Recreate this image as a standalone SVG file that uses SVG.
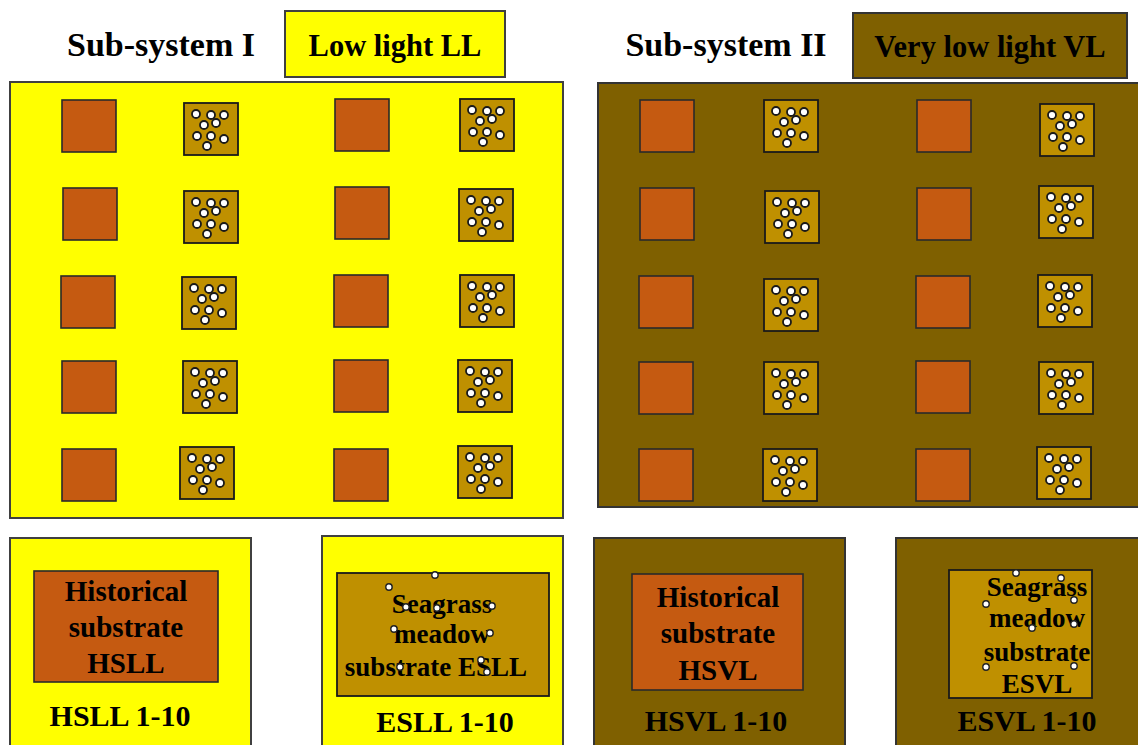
<svg xmlns="http://www.w3.org/2000/svg" xmlns:xlink="http://www.w3.org/1999/xlink" width="1138" height="745" viewBox="0 0 1138 745">
<style>
.t{font-family:"Liberation Serif","Times New Roman",serif;font-weight:bold;fill:#000;text-anchor:middle}
.yl{fill:#FFFF00;stroke:#404040;stroke-width:2}
.ol{fill:#7F6000;stroke:#333;stroke-width:2}
.hs{fill:#C55A11;stroke:#2a2a2a;stroke-width:1.6}
.es{fill:#BF9000;stroke:#1a1a1a;stroke-width:1.8}
.d{fill:#fff;stroke:#222;stroke-width:1.4}
.dd{fill:#fff;stroke:#1a1a1a;stroke-width:1.8}
</style>
<defs>
<g id="dots">
<circle class="dd" cx="12" cy="11" r="4"/>
<circle class="dd" cx="27" cy="12" r="4"/>
<circle class="dd" cx="40" cy="12" r="4"/>
<circle class="dd" cx="20" cy="22" r="4"/>
<circle class="dd" cx="32" cy="20" r="4"/>
<circle class="dd" cx="13" cy="33" r="4"/>
<circle class="dd" cx="27" cy="33" r="4"/>
<circle class="dd" cx="40" cy="36" r="4"/>
<circle class="dd" cx="23" cy="43" r="4"/>
</g>
<g id="es-sq"><rect class="es" x="0" y="0" width="54" height="52"/><use xlink:href="#dots" href="#dots"/></g>
<g id="hs-sq"><rect class="hs" x="0" y="0" width="54" height="52"/></g>
</defs>

<g id="title-1"><text class="t" x="161" y="56" font-size="34">Sub-system I</text></g>
<g id="label-LL"><rect class="yl" x="285" y="11" width="220" height="66" stroke-width="1.6"/><text class="t" x="395" y="56" font-size="30.5">Low light LL</text></g>
<g id="title-2"><text class="t" x="726" y="56" font-size="34">Sub-system II</text></g>
<g id="label-VL"><rect class="ol" x="853" y="13" width="274" height="65" stroke-width="1.6"/><text class="t" x="990" y="57" font-size="30.5">Very low light VL</text></g>

<g id="subsystem-LL">
<rect class="yl" x="10" y="82" width="553" height="436"/>
<use href="#hs-sq" xlink:href="#hs-sq" x="62" y="100"/>
<use href="#es-sq" xlink:href="#es-sq" x="184" y="103"/>
<use href="#hs-sq" xlink:href="#hs-sq" x="335" y="99"/>
<use href="#es-sq" xlink:href="#es-sq" x="460" y="99"/>
<use href="#hs-sq" xlink:href="#hs-sq" x="63" y="188"/>
<use href="#es-sq" xlink:href="#es-sq" x="184" y="191"/>
<use href="#hs-sq" xlink:href="#hs-sq" x="335" y="187"/>
<use href="#es-sq" xlink:href="#es-sq" x="459" y="189"/>
<use href="#hs-sq" xlink:href="#hs-sq" x="61" y="276"/>
<use href="#es-sq" xlink:href="#es-sq" x="182" y="277"/>
<use href="#hs-sq" xlink:href="#hs-sq" x="334" y="275"/>
<use href="#es-sq" xlink:href="#es-sq" x="460" y="275"/>
<use href="#hs-sq" xlink:href="#hs-sq" x="62" y="361"/>
<use href="#es-sq" xlink:href="#es-sq" x="183" y="361"/>
<use href="#hs-sq" xlink:href="#hs-sq" x="334" y="360"/>
<use href="#es-sq" xlink:href="#es-sq" x="458" y="360"/>
<use href="#hs-sq" xlink:href="#hs-sq" x="62" y="449"/>
<use href="#es-sq" xlink:href="#es-sq" x="180" y="447"/>
<use href="#hs-sq" xlink:href="#hs-sq" x="334" y="449"/>
<use href="#es-sq" xlink:href="#es-sq" x="458" y="446"/>
</g>

<g id="subsystem-VL">
<rect class="ol" x="598" y="83" width="542" height="424"/>
<use href="#hs-sq" xlink:href="#hs-sq" x="640" y="100"/>
<use href="#es-sq" xlink:href="#es-sq" x="764" y="100"/>
<use href="#hs-sq" xlink:href="#hs-sq" x="917" y="100"/>
<use href="#es-sq" xlink:href="#es-sq" x="1040" y="104"/>
<use href="#hs-sq" xlink:href="#hs-sq" x="640" y="188"/>
<use href="#es-sq" xlink:href="#es-sq" x="765" y="191"/>
<use href="#hs-sq" xlink:href="#hs-sq" x="917" y="188"/>
<use href="#es-sq" xlink:href="#es-sq" x="1039" y="186"/>
<use href="#hs-sq" xlink:href="#hs-sq" x="639" y="276"/>
<use href="#es-sq" xlink:href="#es-sq" x="764" y="279"/>
<use href="#hs-sq" xlink:href="#hs-sq" x="916" y="276"/>
<use href="#es-sq" xlink:href="#es-sq" x="1038" y="275"/>
<use href="#hs-sq" xlink:href="#hs-sq" x="639" y="362"/>
<use href="#es-sq" xlink:href="#es-sq" x="764" y="362"/>
<use href="#hs-sq" xlink:href="#hs-sq" x="916" y="361"/>
<use href="#es-sq" xlink:href="#es-sq" x="1039" y="362"/>
<use href="#hs-sq" xlink:href="#hs-sq" x="639" y="449"/>
<use href="#es-sq" xlink:href="#es-sq" x="763" y="449"/>
<use href="#hs-sq" xlink:href="#hs-sq" x="916" y="449"/>
<use href="#es-sq" xlink:href="#es-sq" x="1037" y="447"/>
</g>

<g id="HSLL">
<rect class="yl" x="10" y="538" width="241" height="212" stroke-width="1.4"/>
<rect class="hs" x="34" y="571" width="184" height="111"/>
<text class="t" x="126" y="601" font-size="29">Historical</text>
<text class="t" x="126" y="637" font-size="29">substrate</text>
<text class="t" x="126" y="673" font-size="29">HSLL</text>
<text class="t" x="120" y="726" font-size="30">HSLL 1-10</text>
</g>

<g id="ESLL">
<rect class="yl" x="322" y="536" width="241" height="214" stroke-width="1.4"/>
<rect class="es" x="337" y="573" width="212" height="123"/>
<text class="t" x="442" y="613" font-size="27">Seagrass</text>
<text class="t" x="442" y="643" font-size="27">meadow</text>
<text class="t" x="436" y="676" font-size="27">substrate ESLL</text>
<g>
<circle class="d" cx="435" cy="575" r="3.2"/>
<circle class="d" cx="389" cy="587" r="3.2"/>
<circle class="d" cx="406" cy="607" r="3.2"/>
<circle class="d" cx="437" cy="608" r="3.2"/>
<circle class="d" cx="492" cy="606" r="3.2"/>
<circle class="d" cx="394" cy="629" r="3.2"/>
<circle class="d" cx="490" cy="633" r="3.2"/>
<circle class="d" cx="481" cy="660" r="3.2"/>
<circle class="d" cx="487" cy="672" r="3.2"/>
<circle class="d" cx="400" cy="667" r="3.2"/>
</g>
<text class="t" x="445" y="732" font-size="30">ESLL 1-10</text>
</g>

<g id="HSVL">
<rect class="ol" x="594" y="538" width="251" height="212" stroke-width="1.4"/>
<rect class="hs" x="632" y="574" width="171" height="116"/>
<text class="t" x="718" y="607" font-size="29">Historical</text>
<text class="t" x="718" y="643" font-size="29">substrate</text>
<text class="t" x="718" y="680" font-size="29">HSVL</text>
<text class="t" x="716" y="731" font-size="30">HSVL 1-10</text>
</g>

<g id="ESVL">
<rect class="ol" x="896" y="538" width="250" height="212" stroke-width="1.4"/>
<rect class="es" x="949" y="570" width="143" height="128"/>
<text class="t" x="1037" y="596" font-size="27">Seagrass</text>
<text class="t" x="1037" y="627" font-size="27">meadow</text>
<text class="t" x="1037" y="661" font-size="27">substrate</text>
<text class="t" x="1037" y="693" font-size="27">ESVL</text>
<g>
<circle class="d" cx="1016" cy="573" r="3.2"/>
<circle class="d" cx="1061" cy="578" r="3.2"/>
<circle class="d" cx="1074" cy="600" r="3.2"/>
<circle class="d" cx="986" cy="604" r="3.2"/>
<circle class="d" cx="1074" cy="624" r="3.2"/>
<circle class="d" cx="1032" cy="628" r="3.2"/>
<circle class="d" cx="986" cy="667" r="3.2"/>
<circle class="d" cx="1074" cy="666" r="3.2"/>
</g>
<text class="t" x="1027" y="731" font-size="30">ESVL 1-10</text>
</g>
</svg>
